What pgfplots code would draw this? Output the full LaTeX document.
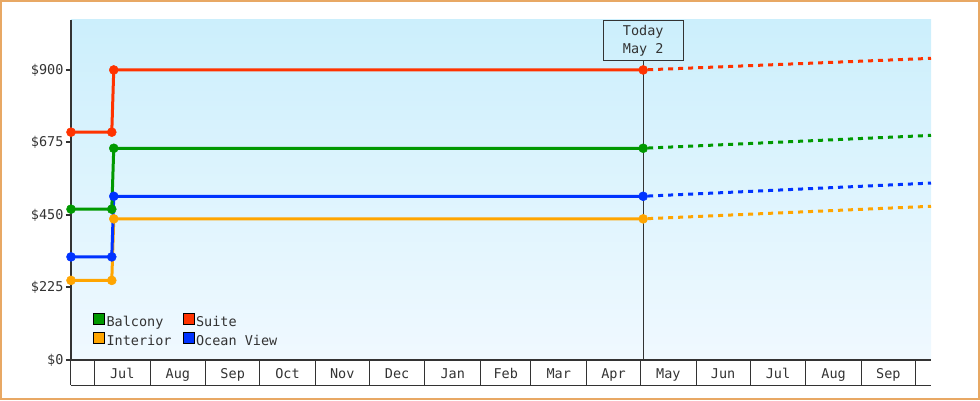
\documentclass[border=0pt]{standalone}
\usepackage{fontspec}
\setmonofont{DejaVu Sans Mono}
\usepackage{pgfplots}
\pgfplotsset{compat=1.18}
\definecolor{suite}{HTML}{FF3300}
\definecolor{balcony}{HTML}{009900}
\definecolor{ocean}{HTML}{0033FF}
\definecolor{interior}{HTML}{FFA500}
\definecolor{dark}{HTML}{333333}
\definecolor{frame}{HTML}{E8A864}
\definecolor{bgtop}{HTML}{CCEFFC}
\definecolor{bgbottom}{HTML}{F0F9FF}
\newcommand{\lbl}{\ttfamily\fontsize{13.5}{15}\selectfont}
\begin{document}
\begin{tikzpicture}
\useasboundingbox (-71pt,-40pt) rectangle (909pt,360pt);
\draw[frame, line width=2pt] (-70pt,-39pt) rectangle (908pt,359pt);
\begin{axis}[
  at={(0pt,0pt)}, anchor=south west,
  scale only axis, width=860pt, height=340pt,
  xmin=-13, xmax=465.7, ymin=0, ymax=1055,
  axis lines=left,
  axis line style={-, line width=2pt, draw=dark},
  tick align=outside, major tick length=5pt,
  ytick={0,225,450,675,900},
  yticklabels={\$0,\$225,\$450,\$675,\$900},
  xtick={15.5,46.5,77,107.5,138,168.5,199.5,229,258.5,289,319.5,350,380.5,411.5,442},
  xticklabels={Jul,Aug,Sep,Oct,Nov,Dec,Jan,Feb,Mar,Apr,May,Jun,Jul,Aug,Sep},
  xtick style={draw=none},
  ytick style={line width=2pt, draw=dark},
  tick label style={font=\lbl, text=dark},
  yticklabel style={xshift=1pt},
  axis background/.style={top color=bgtop, bottom color=bgbottom},
  clip=false,
  legend image code/.code={\fill[#1] (0pt,-2pt) rectangle (11pt,9pt);},
  legend columns=2,
  legend cell align=left,
  legend style={draw=none, fill=none, at={(rel axis cs:0,0)}, anchor=south west,
    xshift=22pt, yshift=13pt, font=\lbl, text=dark, inner sep=0pt,
    nodes={inner sep=0pt}, row sep=4pt,
    /tikz/every odd column/.append style={column sep=2pt},
    /tikz/every even column/.append style={column sep=11pt}},
]
\addlegendimage{fill=balcony}\addlegendentry{Balcony}
\addlegendimage{fill=suite}\addlegendentry{Suite}
\addlegendimage{fill=interior}\addlegendentry{Interior}
\addlegendimage{fill=ocean}\addlegendentry{Ocean View}

% month separators and bottom line of the label band
\pgfplotsinvokeforeach{-13,0,31,62,92,123,153,184,215,243,274,304,335,365,396,427,457}{
  \draw[dark, line width=1pt] (axis cs:#1,0) -- ++(0pt,-25pt);
}
\draw[dark, line width=1pt] (axis cs:-13,0) ++(0pt,-25pt) -- ([yshift=-25pt]axis cs:465.7,0);

% today marker
\node[draw=dark, line width=1pt, minimum width=80pt, minimum height=40pt, anchor=north,
  align=center, font=\ttfamily\fontsize{13.5}{18}\selectfont, text=dark,
  inner xsep=0pt, inner ysep=0pt, text depth=2pt]
  (today) at (axis cs:305.5,1055) {Today\\May 2};
\draw[dark, line width=1pt] (axis cs:305.5,0) -- (today.south);

% forecasts
\addplot[suite, line width=3pt, dash pattern=on 5pt off 5pt, dash phase=5pt, forget plot]
  coordinates {(305.5,900) (465.7,936)};
\addplot[balcony, line width=3pt, dash pattern=on 5pt off 5pt, dash phase=5pt, forget plot]
  coordinates {(305.5,657) (465.7,697)};
\addplot[ocean, line width=3pt, dash pattern=on 5pt off 5pt, dash phase=5pt, forget plot]
  coordinates {(305.5,508) (465.7,549)};
\addplot[interior, line width=3pt, dash pattern=on 5pt off 5pt, dash phase=5pt, forget plot]
  coordinates {(305.5,438) (465.7,477)};

% history
\addplot[interior, line width=3pt, line join=round, mark=*, mark size=4.5pt,
  mark options={line width=0.5pt}, forget plot]
  coordinates {(-13,247) (9.7,247) (10.8,438) (305.5,438)};
\addplot[ocean, line width=3pt, line join=round, mark=*, mark size=4.5pt,
  mark options={line width=0.5pt}, forget plot]
  coordinates {(-13,320) (9.7,320) (10.8,508) (305.5,508)};
\addplot[balcony, line width=3pt, line join=round, mark=*, mark size=4.5pt,
  mark options={line width=0.5pt}, forget plot]
  coordinates {(-13,468) (9.7,468) (10.8,657) (305.5,657)};
\addplot[suite, line width=3pt, line join=round, mark=*, mark size=4.5pt,
  mark options={line width=0.5pt}, forget plot]
  coordinates {(-13,707) (9.7,707) (10.8,900) (305.5,900)};
\end{axis}
\end{tikzpicture}
\end{document}
